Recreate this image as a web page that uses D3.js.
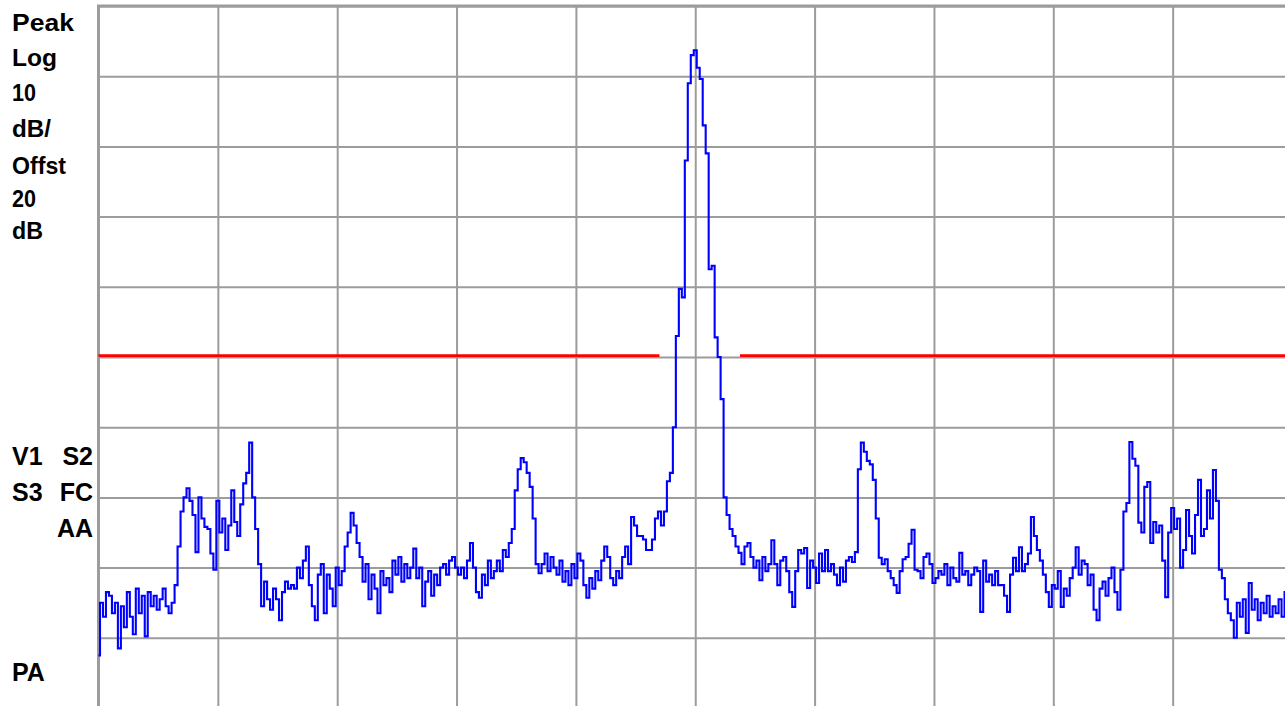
<!DOCTYPE html>
<html>
<head>
<meta charset="utf-8">
<script src="https://cdn.jsdelivr.net/npm/d3@7"></script>
<style>
  html, body { margin: 0; padding: 0; background: #ffffff; overflow: hidden; }
  svg { display: block; }
  text { font-family: "Liberation Sans", Arial, Helvetica, sans-serif; font-weight: bold; fill: #000; }
</style>
</head>
<body>
<svg id="screen" width="1285" height="706"></svg>
<script>
// Sweep trace: 401 points, amplitude in dB relative to the top graticule line
const sweepDb = [
  -92.5, -85, -87, -83.5, -84, -86.5, -85, -91.5, -85.5, -88.5,
  -83.5, -87, -89.5, -83, -86.5, -84, -89.8, -83.5, -85.5, -84,
  -86, -84.5, -83, -85.5, -86.5, -85, -82.5, -77, -72, -70,
  -68.7, -70.5, -72.5, -77.8, -70, -73, -74.2, -74.5, -78, -80.3,
  -70.5, -75, -73, -77.5, -74, -69, -73.5, -75.5, -71, -68,
  -66.5, -62.2, -70, -74.5, -79.5, -85.5, -82, -84.5, -86, -83,
  -84.5, -87.5, -83.5, -82, -83, -82.5, -83, -80, -81.5, -79,
  -77, -82.5, -85.5, -87.5, -81, -79.5, -86.5, -81, -83, -85.5,
  -80, -82.5, -80.5, -77, -75, -72.2, -74, -76.5, -78.5, -82,
  -79.5, -84.5, -81, -83, -86.5, -80.5, -82.5, -81.5, -83.5, -79,
  -81, -78.5, -82, -79.5, -81.5, -80, -77.3, -81.5, -80, -85.5,
  -82, -80.5, -84, -81, -82.5, -80, -79.5, -81, -79, -78.5,
  -80, -81, -80, -81.5, -79, -76.5, -80, -83.5, -84.3, -81,
  -82.5, -79, -81.5, -80.5, -79, -80.5, -77.5, -78.5, -76.5, -74.5,
  -69, -66, -64.4, -65, -66.5, -68.5, -73, -79.5, -80.8, -79.5,
  -78, -80.5, -78.5, -80, -81, -79, -82, -80.5, -82.5, -79.5,
  -81.5, -78, -79, -82.5, -84.3, -81.5, -83, -80.5, -81.8, -79,
  -77, -78.5, -81.5, -82.5, -80.5, -81.5, -78.5, -77, -79.5, -72.8,
  -74, -75.5, -75.5, -76, -77.5, -77.5, -76, -73, -72, -74,
  -72, -67.7, -66.5, -60, -47, -40.3, -41.5, -22, -11, -7,
  -6.3, -8.8, -10.4, -17, -21, -37.5, -37, -47.2, -50, -56,
  -70, -72.5, -74.5, -75.5, -77, -77.9, -79.5, -77, -76.5, -78.5,
  -80, -79, -81.8, -78.5, -80.5, -79.5, -76.1, -79.5, -82.5, -79,
  -78.5, -80.5, -83.5, -85.6, -80.5, -77.5, -78, -77.2, -82.9, -79,
  -80, -82.2, -78, -80.5, -77.5, -80.5, -79.5, -81, -82.5, -80,
  -82, -79, -78.5, -79.2, -77.8, -66, -62.2, -63.5, -64.8, -65.3,
  -67.5, -73, -78.6, -79.5, -78.8, -80.5, -81.5, -82.5, -83.6, -80.5,
  -78.8, -78.5, -76.6, -74.6, -80.3, -80.5, -81.5, -78.5, -78, -79.5,
  -82.2, -81.5, -80.5, -81, -79.5, -82.5, -80, -81.5, -82, -77.9,
  -81, -80.5, -82.5, -81, -80, -80.5, -86.3, -79, -82, -81,
  -82.5, -80.5, -82.5, -82.5, -84, -86.3, -81, -78.6, -80.5, -77.1,
  -80.5, -79.5, -78, -72.8, -75.5, -77.5, -79, -81, -83.5, -85.6,
  -82.5, -83, -80.5, -85.6, -83, -84, -81.5, -80, -77.1, -81,
  -79, -79.5, -82.5, -81, -86, -87.5, -83, -82, -84, -81.5,
  -80, -83.5, -86, -80.3, -72, -70.8, -62.1, -64.5, -65.5, -73.6,
  -75, -68.5, -67.8, -76.5, -73.5, -75, -74, -79, -84.2, -75,
  -71.5, -74.5, -73, -80, -77.5, -71.8, -75.5, -78, -72.5, -67.5,
  -75.5, -74.5, -69, -73, -66.1, -70.5, -80.3, -81.5, -84.5, -86.5,
  -87.5, -90, -85, -87, -84.5, -89.3, -82.2, -86, -84.5, -87.5,
  -85, -86.5, -84, -87, -85.5, -86.5, -84.5, -87, -83.5, -85.5,
  -86
];

// Display settings
const refLevelDb = 0;
const dbPerDiv = 10;
const divisions = 10;
const displayLineDb = -49.8;
// Display line is blanked where the carrier crosses it (sweep point ranges)
const displayLineSpans = [[0, 188], [215, 400]];

// Annotation text
const scaleLabels = ["Peak", "Log", "10", "dB/", "Offst", "20", "dB"];
const statusLeft = ["V1", "S3"];
const statusRight = ["S2", "FC", "AA"];
const probeLabel = "PA";

const svg = d3.select("#screen");

const plot = { left: 98.5, top: 6, right: 1292, bottom: 708 };

const x = d3.scaleLinear()
  .domain([0, sweepDb.length - 1])
  .range([plot.left, plot.right]);

const y = d3.scaleLinear()
  .domain([refLevelDb, refLevelDb - dbPerDiv * divisions])
  .range([plot.top, plot.bottom]);

const gridColor = "#9c9c9c";

// Graticule drawn through axes with full-length ticks
const xTicks = d3.range(0, divisions + 1).map(k => k * (sweepDb.length - 1) / divisions);
const yTicks = d3.range(0, divisions + 1).map(k => refLevelDb - k * dbPerDiv);

const gx = svg.append("g")
  .attr("transform", `translate(0,${plot.bottom})`)
  .call(d3.axisBottom(x).tickValues(xTicks).tickSize(-(plot.bottom - plot.top)).tickFormat(""));
gx.select(".domain").remove();
gx.selectAll(".tick line").attr("stroke", gridColor).attr("stroke-width", 2);

const gy = svg.append("g")
  .attr("transform", `translate(${plot.left},0)`)
  .call(d3.axisLeft(y).tickValues(yTicks).tickSize(-(plot.right - plot.left)).tickFormat(""));
gy.select(".domain").remove();
gy.selectAll(".tick line").attr("stroke", gridColor).attr("stroke-width", 2);

// Heavier frame on the graticule edges
svg.append("rect")
  .attr("x", plot.left).attr("y", plot.top)
  .attr("width", plot.right - plot.left).attr("height", plot.bottom - plot.top)
  .attr("fill", "none").attr("stroke", gridColor).attr("stroke-width", 3);

// Display line
svg.append("g").selectAll("line")
  .data(displayLineSpans)
  .join("line")
  .attr("x1", d => x(d[0])).attr("x2", d => x(d[1]))
  .attr("y1", y(displayLineDb)).attr("y2", y(displayLineDb))
  .attr("stroke", "#ff0000").attr("stroke-width", 2.6);

// Trace
const line = d3.line()
  .x((d, i) => x(i))
  .y(d => y(d))
  .curve(d3.curveStep);

svg.append("path")
  .datum(sweepDb)
  .attr("d", line)
  .attr("fill", "none")
  .attr("stroke", "#0000ff")
  .attr("stroke-width", 2.1)
  .attr("stroke-linejoin", "miter");

// Scale annotation block
const scaleBaselines = [31, 66, 101, 137, 174, 207, 239];
const scaleWidths = [62, 45, 24, 39, 54, 24, 31];
svg.append("g").selectAll("text")
  .data(scaleLabels)
  .join("text")
  .attr("x", 12)
  .attr("y", (d, i) => scaleBaselines[i])
  .attr("font-size", 24)
  .attr("textLength", (d, i) => scaleWidths[i])
  .attr("lengthAdjust", "spacingAndGlyphs")
  .text(d => d);

// Status annotations
const statusBaselines = [465, 501, 537];
svg.append("g").selectAll("text")
  .data(statusLeft)
  .join("text")
  .attr("x", 12)
  .attr("y", (d, i) => statusBaselines[i])
  .attr("font-size", 25)
  .text(d => d);

svg.append("g").selectAll("text")
  .data(statusRight)
  .join("text")
  .attr("x", 93)
  .attr("y", (d, i) => statusBaselines[i])
  .attr("font-size", 25)
  .attr("text-anchor", "end")
  .text(d => d);

svg.append("text")
  .attr("x", 12)
  .attr("y", 681)
  .attr("font-size", 25)
  .text(probeLabel);
</script>
</body>
</html>
